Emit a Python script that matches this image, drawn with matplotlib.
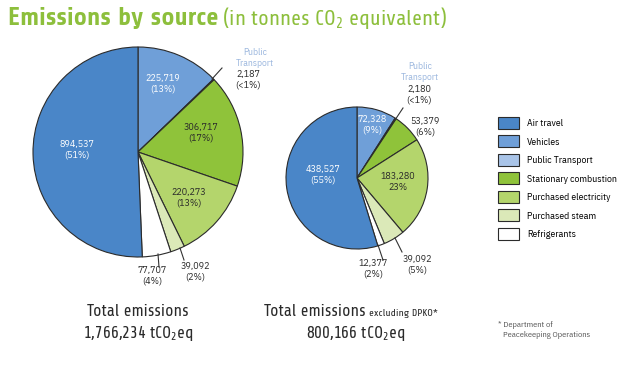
import matplotlib
matplotlib.use('Agg')
import matplotlib.pyplot as plt

head_font = ['Share', 'Saira Condensed', 'IBM Plex Sans Condensed', 'DejaVu Sans']
body_font = ['IBM Plex Sans Condensed', 'DejaVu Sans']
plt.rcParams['font.family'] = body_font
plt.rcParams['mathtext.fontset'] = 'custom'
plt.rcParams['mathtext.rm'] = 'Share'
plt.rcParams['mathtext.default'] = 'rm'

# categories, in drawing order (clockwise from the top)
categories = ['Vehicles', 'Public Transport', 'Stationary combustion',
              'Purchased electricity', 'Purchased steam', 'Refrigerants', 'Air travel']
legend_order = ['Air travel', 'Vehicles', 'Public Transport', 'Stationary combustion',
                'Purchased electricity', 'Purchased steam', 'Refrigerants']
colors = ['#6f9fd8', '#a9c4e8', '#8fc33a', '#b4d56c', '#dbe9b8', '#ffffff', '#4a86c8']

total_vals = [225719, 2187, 306717, 220273, 39092, 77707, 894537]
total_pcts = ['(13%)', '(<1%)', '(17%)', '(13%)', '(2%)', '(4%)', '(51%)']
excl_vals = [72328, 2180, 53379, 183280, 39092, 12377, 438527]
excl_pcts = ['(9%)', '(<1%)', '(6%)', '23%', '(5%)', '(2%)', '(55%)']

W, H = 639, 369
fig = plt.figure(figsize=(W / 100, H / 100), dpi=100)
ax = fig.add_axes([0, 0, 1, 1])


def P(x, y):
    # pixel coords (top-left origin) -> data coords
    return x, H - y


edge = dict(edgecolor='#2b2b2b', linewidth=0.8)
w1, _ = ax.pie(total_vals, colors=colors, startangle=90, counterclock=False,
               center=P(138, 152), radius=105, wedgeprops=edge)
w2, _ = ax.pie(excl_vals, colors=colors, startangle=90, counterclock=False,
               center=P(357, 178), radius=71, wedgeprops=edge)
ax.set_xlim(0, W)
ax.set_ylim(0, H)
ax.set_aspect('equal')
ax.axis('off')

lab_font = 7.2
dark = '#2a2a2a'
pt_blue = '#9db8df'


def lbl(x, y, s, c=dark, size=lab_font):
    ax.text(*P(x, y), s, ha='center', va='center', color=c, fontsize=size,
            linespacing=1.15)


def leader(x0, y0, x1, y1):
    ax.plot(*zip(P(x0, y0), P(x1, y1)), color='#333333', lw=0.8)


def fmt(v):
    return f'{v:,}'


# left pie labels
lbl(77, 150, f'{fmt(total_vals[6])}\n{total_pcts[6]}', 'white')
lbl(163, 84, f'{fmt(total_vals[0])}\n{total_pcts[0]}', 'white')
lbl(255, 58, 'Public\nTransport', pt_blue, 6.8)
lbl(248, 80, f'{fmt(total_vals[1])}\n{total_pcts[1]}')
leader(212, 79, 222, 68)
lbl(201, 133, f'{fmt(total_vals[2])}\n{total_pcts[2]}')
lbl(189, 198, f'{fmt(total_vals[3])}\n{total_pcts[3]}')
lbl(195, 272, f'{fmt(total_vals[4])}\n{total_pcts[4]}')
leader(180, 248, 184, 260)
lbl(152, 276, f'{fmt(total_vals[5])}\n{total_pcts[5]}')
leader(158, 254, 159, 267)

# right pie labels
lbl(323, 175, f'{fmt(excl_vals[6])}\n{excl_pcts[6]}', 'white')
lbl(372, 125, f'{fmt(excl_vals[0])}\n{excl_pcts[0]}', 'white')
lbl(420, 72, 'Public\nTransport', pt_blue, 6.8)
lbl(419, 95, f'{fmt(excl_vals[1])}\n{excl_pcts[1]}')
leader(395, 120, 403, 108)
lbl(425, 127, f'{fmt(excl_vals[2])}\n{excl_pcts[2]}')
lbl(398, 182, f'{fmt(excl_vals[3])}\n{excl_pcts[3]}')
lbl(417, 265, f'{fmt(excl_vals[4])}\n{excl_pcts[4]}')
leader(395, 238, 402, 252)
lbl(373, 269, f'{fmt(excl_vals[5])}\n{excl_pcts[5]}')
leader(378, 245, 383, 260)

# title
green = '#8dbf3c'
ax.text(*P(8, 25), 'Emissions by source', color=green, fontsize=18.2,
        fontweight='bold', ha='left', va='baseline', family=head_font)
ax.text(*P(222, 25), '(in tonnes CO$_2$ equivalent)', color=green, fontsize=15.5,
        ha='left', va='baseline', family=head_font)

# totals
big = 12
ax.text(*P(138, 316), 'Total emissions', fontsize=big, color=dark, ha='center', va='baseline', family=head_font)
ax.text(*P(138, 338), '1,766,234 tCO$_2$eq', fontsize=big, color=dark, ha='center', va='baseline', family=head_font)
ax.text(*P(366, 316), 'Total emissions', fontsize=big, color=dark, ha='right', va='baseline', family=head_font)
ax.text(*P(369, 316), 'excluding DPKO*', fontsize=7.5, color=dark, ha='left', va='baseline', family=head_font)
ax.text(*P(356, 338), '800,166 tCO$_2$eq', fontsize=big, color=dark, ha='center', va='baseline', family=head_font)

ax.text(*P(498, 325), '* Department of', fontsize=6, color='#555555', ha='left', va='center')
ax.text(*P(503, 335), 'Peacekeeping Operations', fontsize=6, color='#555555', ha='left', va='center')

# legend
handles = [w1[categories.index(c)] for c in legend_order]
fs = 7
ax.legend(handles, legend_order, loc='upper left',
          bbox_to_anchor=(498 / W, 1 - 117 / H), bbox_transform=fig.transFigure,
          frameon=False, fontsize=fs, handlelength=2.2, handleheight=1.5,
          handletextpad=0.8, labelspacing=0.68, borderpad=0, borderaxespad=0)

fig.savefig('out.png', dpi=100, facecolor='white')
